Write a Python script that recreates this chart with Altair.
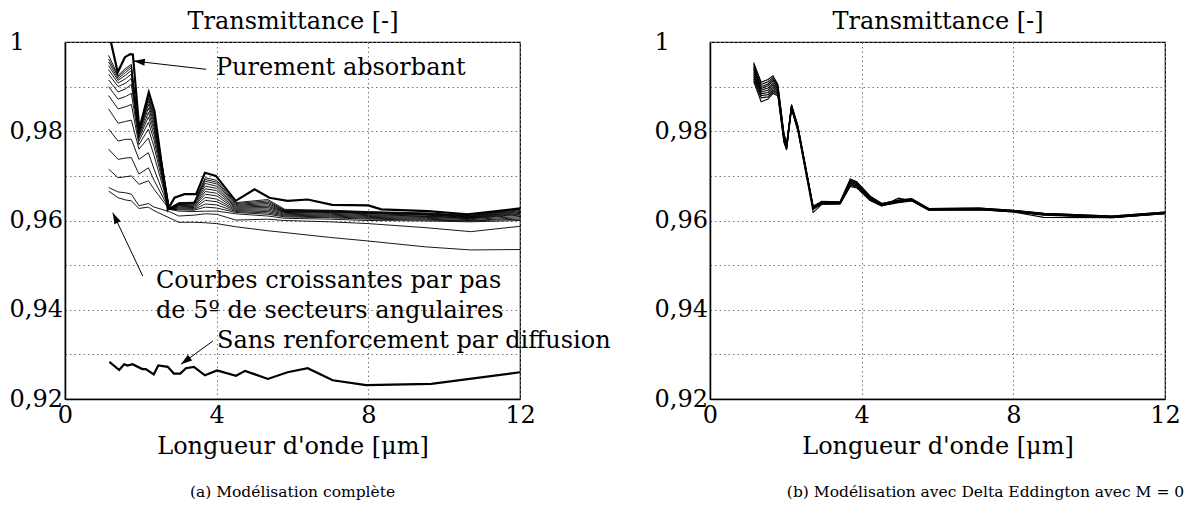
import altair as alt
import pandas as pd

FONT = "DejaVu Serif"
W, H = 455, 357

# ---------------- data ----------------
# (a) full model: wavelength grid shared by the thin curves (increasing angular sectors)
wl_full = [1.15, 1.4, 1.6, 1.75, 1.95, 2.2, 2.35, 2.75, 3.0, 3.4, 3.7, 4.0, 4.5, 5.35, 5.8, 7.0, 8.0, 9.5, 10.7, 12.0]
thin_01 = [0.9666, 0.9651, 0.9646, 0.9644, 0.9627, 0.9630, 0.9622, 0.9606, 0.9596, 0.9596, 0.9595, 0.9593, 0.9586, 0.9577, 0.9573, 0.9562, 0.9554, 0.9541, 0.9534, 0.9535]
thin_02 = [0.9674, 0.9664, 0.9662, 0.9659, 0.9633, 0.9638, 0.9630, 0.9620, 0.9610, 0.9612, 0.9615, 0.9614, 0.9601, 0.9603, 0.9600, 0.9597, 0.9593, 0.9584, 0.9575, 0.9587]
thin_03 = [0.9715, 0.9696, 0.9698, 0.9700, 0.9681, 0.9689, 0.9670, 0.9625, 0.9621, 0.9620, 0.9621, 0.9621, 0.9615, 0.9610, 0.9605, 0.9603, 0.9600, 0.9599, 0.9597, 0.9600]
thin_04 = [0.9760, 0.9737, 0.9740, 0.9741, 0.9704, 0.9718, 0.9690, 0.9625, 0.9624, 0.9623, 0.9630, 0.9628, 0.9618, 0.9614, 0.9608, 0.9606, 0.9603, 0.9601, 0.9599, 0.9603]
thin_05 = [0.9805, 0.9778, 0.9782, 0.9782, 0.9737, 0.9752, 0.9715, 0.9625, 0.9626, 0.9625, 0.9637, 0.9635, 0.9620, 0.9617, 0.9610, 0.9608, 0.9605, 0.9603, 0.9600, 0.9606]
thin_06 = [0.9850, 0.9818, 0.9822, 0.9825, 0.9760, 0.9785, 0.9745, 0.9625, 0.9628, 0.9627, 0.9645, 0.9642, 0.9622, 0.9620, 0.9612, 0.9610, 0.9607, 0.9605, 0.9602, 0.9609]
thin_07 = [0.9880, 0.9850, 0.9855, 0.9860, 0.9770, 0.9805, 0.9765, 0.9625, 0.9630, 0.9629, 0.9652, 0.9648, 0.9624, 0.9623, 0.9614, 0.9612, 0.9609, 0.9607, 0.9604, 0.9612]
thin_08 = [0.9900, 0.9872, 0.9878, 0.9885, 0.9778, 0.9820, 0.9780, 0.9625, 0.9632, 0.9631, 0.9659, 0.9655, 0.9626, 0.9626, 0.9616, 0.9614, 0.9611, 0.9609, 0.9605, 0.9614]
thin_09 = [0.9915, 0.9888, 0.9895, 0.9905, 0.9784, 0.9832, 0.9792, 0.9625, 0.9634, 0.9633, 0.9665, 0.9661, 0.9628, 0.9629, 0.9618, 0.9616, 0.9613, 0.9610, 0.9606, 0.9616]
thin_10 = [0.9928, 0.9900, 0.9908, 0.9918, 0.9788, 0.9842, 0.9802, 0.9625, 0.9635, 0.9635, 0.9671, 0.9667, 0.9630, 0.9632, 0.9619, 0.9618, 0.9615, 0.9612, 0.9607, 0.9618]
thin_11 = [0.9938, 0.9908, 0.9918, 0.9928, 0.9792, 0.9852, 0.9810, 0.9625, 0.9636, 0.9637, 0.9677, 0.9672, 0.9632, 0.9635, 0.9620, 0.9619, 0.9616, 0.9613, 0.9608, 0.9620]
thin_12 = [0.9947, 0.9914, 0.9926, 0.9936, 0.9795, 0.9860, 0.9818, 0.9626, 0.9637, 0.9638, 0.9683, 0.9677, 0.9634, 0.9638, 0.9621, 0.9620, 0.9617, 0.9614, 0.9609, 0.9622]
thin_13 = [0.9955, 0.9918, 0.9932, 0.9942, 0.9797, 0.9867, 0.9825, 0.9626, 0.9638, 0.9639, 0.9688, 0.9682, 0.9636, 0.9641, 0.9622, 0.9621, 0.9618, 0.9615, 0.9610, 0.9624]
thin_14 = [0.9962, 0.9922, 0.9937, 0.9946, 0.9799, 0.9873, 0.9832, 0.9627, 0.9639, 0.9640, 0.9692, 0.9686, 0.9638, 0.9644, 0.9623, 0.9622, 0.9619, 0.9616, 0.9611, 0.9626]
thin_15 = [0.9970, 0.9925, 0.9941, 0.9950, 0.9800, 0.9878, 0.9838, 0.9628, 0.9640, 0.9641, 0.9696, 0.9690, 0.9640, 0.9647, 0.9625, 0.9623, 0.9620, 0.9617, 0.9612, 0.9627]

# (a) bold "Purement absorbant"
wl_pure = [1.15, 1.39, 1.58, 1.72, 1.79, 1.96, 2.21, 2.36, 2.71, 2.89, 3.15, 3.46, 3.69, 3.98, 4.5, 5.0, 5.39, 5.87, 6.4, 7.05, 8.0, 8.34, 9.57, 10.62, 12.0]
t_pure = [1.0023, 0.9932, 0.9966, 0.9973, 0.9972, 0.9805, 0.9887, 0.9845, 0.9625, 0.9651, 0.9659, 0.9659, 0.9707, 0.9700, 0.9644, 0.9670, 0.9651, 0.9644, 0.9647, 0.9635, 0.9634, 0.9625, 0.9621, 0.9614, 0.9627]

# (a) bold "Sans renforcement par diffusion"
wl_sans = [1.17, 1.43, 1.56, 1.65, 1.78, 2.04, 2.13, 2.34, 2.46, 2.71, 2.87, 3.04, 3.19, 3.40, 3.69, 4.01, 4.51, 4.75, 5.35, 5.87, 6.40, 7.06, 7.94, 9.66, 12.0]
t_sans = [0.9283, 0.9265, 0.9278, 0.9275, 0.9278, 0.9267, 0.9267, 0.9255, 0.9275, 0.9272, 0.9257, 0.9257, 0.9269, 0.9272, 0.9253, 0.9264, 0.9252, 0.9263, 0.9245, 0.9260, 0.9269, 0.9242, 0.9231, 0.9234, 0.9260]

# (b) Delta Eddington, M = 0
wl_delta = [1.15, 1.35, 1.53, 1.66, 1.79, 1.95, 2.02, 2.15, 2.32, 2.72, 2.95, 3.43, 3.7, 3.87, 4.22, 4.53, 4.97, 5.32, 5.77, 7.1, 8.0, 8.8, 10.6, 12.0]
delta_01 = [0.9912, 0.9866, 0.9872, 0.9885, 0.9879, 0.9775, 0.9758, 0.9850, 0.9800, 0.9618, 0.9636, 0.9637, 0.9676, 0.9673, 0.9645, 0.9632, 0.9650, 0.9644, 0.9623, 0.9624, 0.9619, 0.9607, 0.9606, 0.9615]
delta_02 = [0.9917, 0.9875, 0.9877, 0.9889, 0.9882, 0.9777, 0.9760, 0.9851, 0.9801, 0.9625, 0.9637, 0.9637, 0.9678, 0.9675, 0.9646, 0.9633, 0.9640, 0.9644, 0.9623, 0.9624, 0.9619, 0.9612, 0.9606, 0.9615]
delta_03 = [0.9922, 0.9880, 0.9882, 0.9893, 0.9885, 0.9780, 0.9762, 0.9852, 0.9803, 0.9626, 0.9638, 0.9638, 0.9680, 0.9677, 0.9647, 0.9634, 0.9641, 0.9645, 0.9624, 0.9625, 0.9620, 0.9613, 0.9607, 0.9616]
delta_04 = [0.9927, 0.9884, 0.9887, 0.9898, 0.9888, 0.9782, 0.9763, 0.9853, 0.9804, 0.9627, 0.9638, 0.9638, 0.9682, 0.9678, 0.9648, 0.9634, 0.9642, 0.9645, 0.9624, 0.9625, 0.9620, 0.9613, 0.9607, 0.9616]
delta_05 = [0.9932, 0.9888, 0.9892, 0.9903, 0.9891, 0.9785, 0.9765, 0.9854, 0.9805, 0.9628, 0.9639, 0.9639, 0.9684, 0.9680, 0.9649, 0.9635, 0.9642, 0.9646, 0.9625, 0.9626, 0.9621, 0.9614, 0.9608, 0.9617]
delta_06 = [0.9937, 0.9892, 0.9897, 0.9907, 0.9894, 0.9787, 0.9766, 0.9855, 0.9806, 0.9629, 0.9640, 0.9640, 0.9686, 0.9681, 0.9650, 0.9636, 0.9643, 0.9646, 0.9625, 0.9626, 0.9621, 0.9614, 0.9608, 0.9617]
delta_07 = [0.9941, 0.9896, 0.9902, 0.9912, 0.9897, 0.9790, 0.9768, 0.9856, 0.9808, 0.9630, 0.9641, 0.9640, 0.9688, 0.9683, 0.9651, 0.9636, 0.9644, 0.9647, 0.9626, 0.9627, 0.9622, 0.9615, 0.9609, 0.9618]
delta_08 = [0.9945, 0.9900, 0.9906, 0.9916, 0.9900, 0.9792, 0.9769, 0.9857, 0.9809, 0.9631, 0.9642, 0.9641, 0.9690, 0.9684, 0.9652, 0.9637, 0.9645, 0.9648, 0.9626, 0.9627, 0.9622, 0.9615, 0.9609, 0.9618]
delta_09 = [0.9950, 0.9905, 0.9911, 0.9920, 0.9902, 0.9794, 0.9771, 0.9858, 0.9810, 0.9631, 0.9642, 0.9641, 0.9692, 0.9686, 0.9654, 0.9638, 0.9645, 0.9648, 0.9627, 0.9628, 0.9623, 0.9616, 0.9610, 0.9619]
delta_10 = [0.9954, 0.9910, 0.9916, 0.9924, 0.9905, 0.9795, 0.9772, 0.9860, 0.9812, 0.9632, 0.9643, 0.9642, 0.9693, 0.9687, 0.9655, 0.9638, 0.9646, 0.9649, 0.9627, 0.9628, 0.9623, 0.9616, 0.9610, 0.9619]

# axes
x_ticks = [0, 4, 8, 12]
y_ticks = [0.92, 0.93, 0.94, 0.95, 0.96, 0.97, 0.98, 0.99, 1.0]

# annotations (data coordinates)
ann_text = ["Purement absorbant", "Courbes croissantes par pas", "de 5º de secteurs angulaires", "Sans renforcement par diffusion"]
ann_wl = [3.98, 2.40, 2.40, 4.01]
ann_t = [0.99261, 0.94487, 0.93815, 0.93143]
arrow_wl = [3.72, 2.05, 3.90]
arrow_t = [0.99388, 0.94756, 0.93300]
arrow_wl_tip = [1.81, 1.26, 3.06]
arrow_t_tip = [0.99574, 0.96175, 0.92778]
arrow_angle = [6.5, 64.6, 323.7]

captions = ["(a) Modélisation complète", "(b) Modélisation avec Delta Eddington avec M = 0"]


# ---------------- tables ----------------
def long_table(xs, curves, prefix):
    rows = []
    for i, vals in enumerate(curves):
        for x, y in zip(xs, vals):
            rows.append({"wl": x, "T": y, "curve": f"{prefix}{i}"})
    return pd.DataFrame(rows)


df_thin = long_table(wl_full, [thin_01, thin_02, thin_03, thin_04, thin_05, thin_06, thin_07, thin_08,
                               thin_09, thin_10, thin_11, thin_12, thin_13, thin_14, thin_15], "a")
df_bold = pd.concat([long_table(wl_pure, [t_pure], "pure"), long_table(wl_sans, [t_sans], "sans")])
df_delta = long_table(wl_delta, [delta_01, delta_02, delta_03, delta_04, delta_05, delta_06, delta_07,
                                 delta_08, delta_09, delta_10], "b")
df_text = pd.DataFrame({"wl": ann_wl, "T": ann_t, "label": ann_text})
df_arrow = pd.DataFrame({"wl": arrow_wl, "T": arrow_t, "wl2": arrow_wl_tip, "T2": arrow_t_tip})
df_head = pd.DataFrame({"wl": arrow_wl_tip, "T": arrow_t_tip, "angle": arrow_angle})

# ---------------- encodings ----------------
grid_kw = dict(grid=True, gridColor="#777777", gridDash=[1.5, 3], gridWidth=1)

x_axis = alt.Axis(values=x_ticks, format="d", labelFlush=False, ticks=False, labelPadding=4,
                  labelFont=FONT, labelFontSize=24, labelColor="black",
                  domain=True, domainColor="black", domainWidth=1.5,
                  title="Longueur d'onde [μm]", titleFont=FONT, titleFontSize=24,
                  titleFontWeight="normal", titleColor="black", titlePadding=7, **grid_kw)

y_axis = alt.Axis(values=y_ticks,
                  labelExpr="round(datum.value*100) % 2 == 0 ? replace(format(datum.value, '.2~f'), '.', ',') : ''",
                  ticks=False, labelAlign="left", labelPadding=56, labelBaseline="middle",
                  labelFont=FONT, labelFontSize=24, labelColor="black",
                  domain=True, domainColor="black", domainWidth=1.5,
                  title="Transmittance [-]", titleAngle=0, titleX=W / 2, titleY=-9,
                  titleAlign="center", titleBaseline="bottom", titleFont=FONT, titleFontSize=24,
                  titleFontWeight="normal", titleColor="black", **grid_kw)

X = alt.X("wl:Q", scale=alt.Scale(domain=[0, 12], nice=False, zero=False), axis=x_axis)
Y = alt.Y("T:Q", scale=alt.Scale(domain=[0.92, 1.0], nice=False, zero=False), axis=y_axis)


def caption(text, dx=0):
    return alt.TitleParams(text=text, orient="bottom", anchor="middle", font=FONT, fontSize=15.5,
                           fontWeight="normal", color="black", offset=27, dx=dx)


thin = alt.Chart(df_thin).mark_line(color="black", strokeWidth=0.9, clip=True).encode(
    x=X, y=Y, detail="curve:N")
bold = alt.Chart(df_bold).mark_line(color="black", strokeWidth=2.2, clip=True).encode(
    x=X, y=Y, detail="curve:N")
texts = alt.Chart(df_text).mark_text(align="left", baseline="alphabetic", font=FONT, fontSize=24,
                                     color="black").encode(x=X, y=Y, text="label:N")
arrows = alt.Chart(df_arrow).mark_rule(color="black", strokeWidth=1).encode(
    x=X, y=Y, x2="wl2:Q", y2="T2:Q")
heads = alt.Chart(df_head).mark_point(shape="M0,0L1,-0.32L1,0.32Z", size=500, filled=True,
                                      color="black", opacity=1).encode(
    x=X, y=Y, angle=alt.Angle("angle:Q", scale=None))

left = alt.layer(thin, bold, arrows, heads, texts).properties(
    width=W, height=H, title=caption(captions[0]))

right = alt.layer(
    alt.Chart(df_delta).mark_line(color="black", strokeWidth=1.1, clip=True).encode(
        x=X, y=Y, detail="curve:N")
).properties(width=W, height=H, title=caption(captions[1], dx=48))

chart = alt.hconcat(left, right, spacing=190, bounds="flush").properties(
    padding={"left": 0, "top": 0, "right": 0, "bottom": 0}
).configure_view(stroke="black", strokeWidth=1.2)

chart.save("out.html", embed_options={"renderer": "svg", "actions": False})
